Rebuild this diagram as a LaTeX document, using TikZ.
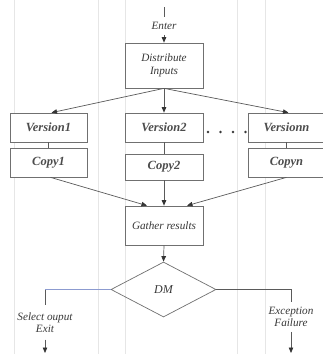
\documentclass[tikz,border=0pt]{standalone}
\usepackage{fontspec}
\setmainfont{Liberation Serif}
\usetikzlibrary{arrows.meta,shapes.geometric}
\definecolor{gridgray}{HTML}{E6E6E6}
\definecolor{linegray}{HTML}{5A5A5A}
\definecolor{boxgray}{HTML}{707070}
\definecolor{txtgray}{HTML}{383838}
\definecolor{vtxtgray}{HTML}{4C4C4C}
\definecolor{bluish}{HTML}{8C9BD0}
\tikzset{
  box/.style={draw=boxgray, line width=0.7pt, fill=white, inner sep=0pt,
    minimum width=78pt, text=txtgray, font=\fontsize{11.2}{13}\selectfont\itshape, align=center},
  vbox/.style={box, minimum width=77pt, minimum height=29pt, text=vtxtgray,
    font=\fontsize{12.5}{14}\selectfont\bfseries\itshape},
  lbl/.style={text=txtgray, font=\fontsize{11.2}{12}\selectfont\itshape, align=center, inner xsep=1pt},
  conn/.style={draw=linegray, line width=0.7pt},
  arr/.style={conn, -{Triangle[length=5.5pt,width=4.5pt,color=black!80]}},
  guide/.style={draw=gridgray, line width=0.6pt}
}
\begin{document}
\begin{tikzpicture}[x=1pt,y=-1pt]
\useasboundingbox[fill=white] (0,0) rectangle (323,354);
% faint vertical guide lines
\foreach \gx in {14,98,125,237,265}
  \draw[guide] (\gx,0) -- (\gx,354);

% entry
\coordinate (top) at (164,7);
\node[lbl, inner ysep=5pt] (enter) at (164,26) {Enter};
\node[box, minimum height=45pt] (dist) at (164,65.5) {Distribute\\Inputs};

% versions and copies
\node[vbox] (v1) at (48.5,127.5) {Version1};
\node[vbox, minimum width=78pt] (v2) at (164,127.5) {Version2};
\node[vbox] (vn) at (286.5,127.5) {Versionn};
\node[vbox] (c1) at (48.5,162.5) {Copy1};
\node[vbox, minimum width=78pt, minimum height=26pt] (c2) at (164,167) {Copy2};
\node[vbox] (cn) at (286.5,162.5) {Copyn};

% ellipsis between the second and last version
\foreach \dx in {208,220.5,233,245.5}
  \fill[txtgray] (\dx,132) circle (1.3pt);

\node[box, minimum height=39pt] (gather) at (164,225.5) {Gather results};
\node[draw=boxgray, line width=0.7pt, diamond, aspect=1.9, inner sep=0pt,
  minimum width=105pt, minimum height=55pt, text=txtgray,
  font=\fontsize{12}{14}\selectfont\itshape] (dm) at (163.5,289.5) {DM};

% outcomes
\coordinate (lc) at (45,289.5);
\coordinate (rc) at (291,289.5);
\node[lbl, inner ysep=7pt] (sel) at (45,322.5) {Select ouput\\Exit};
\node[lbl, inner ysep=5pt] (exc) at (291,317) {Exception\\Failure};
\coordinate (lend) at (45,353);
\coordinate (rend) at (291,353);

% connectors
\draw[conn] (top) -- (enter.north);
\draw[arr] (enter.south) -- (dist.north);
\draw[arr] (dist.south) -- ([xshift=3pt]v1.north);
\draw[arr] (dist.south) -- (v2.north);
\draw[arr] (dist.south) -- ([xshift=2pt]vn.north);
\draw[conn] (v1.south) -- (c1.north);
\draw[conn] (v2.south) -- (c2.north);
\draw[conn] (vn.south) -- (cn.north);
\draw[arr] ([xshift=2pt]c1.south) -- ([xshift=-17pt]gather.north);
\draw[arr] (c2.south) -- (gather.north);
\draw[arr] (cn.south) -- ([xshift=23pt]gather.north);
\draw[arr] (gather.south) -- (dm.north);
\draw[draw=bluish, line width=0.7pt] (dm.west) -- (lc);
\draw[conn] (lc) -- (sel.north);
\draw[arr] (sel.south) -- (lend);
\draw[conn] (dm.east) -- (rc) -- (exc.north);
\draw[arr] (exc.south) -- (rend);
\end{tikzpicture}
\end{document}
